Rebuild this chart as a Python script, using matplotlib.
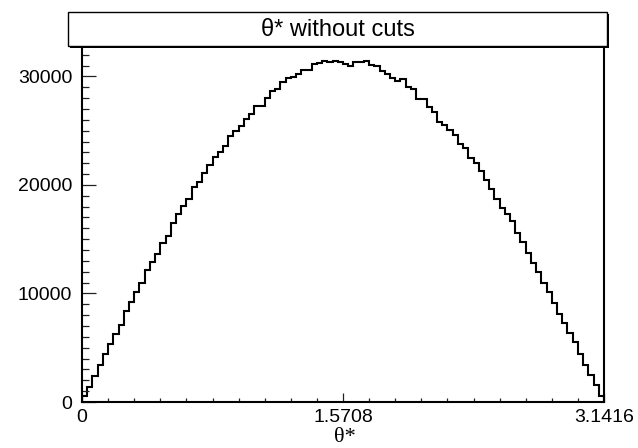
"""theta* distribution without cuts, ROOT-style histogram."""
import numpy as np
import matplotlib
matplotlib.use('Agg')
import matplotlib.pyplot as plt
from matplotlib.patches import Rectangle
from matplotlib.ticker import FixedLocator, MultipleLocator

# ── data ────────────────────────────────────────────────────────────────────
x_min, x_max = 0.0, np.pi
n_bins = 100
counts = [
    515, 1408, 2357, 3370, 4444, 5300, 6284, 7110, 8370, 9228,
    10148, 11003, 12140, 12876, 13640, 14684, 15300, 16468, 17324, 18090,
    18731, 19835, 20240, 21123, 21804, 22568, 23028, 23552, 24500, 24987,
    25447, 26064, 26524, 27287, 27287, 28023, 28640, 28796, 29495, 29808,
    29955, 30204, 30544, 30544, 31096, 31188, 31427, 31280, 31427, 31280,
    31096, 30940, 31280, 31280, 31427, 31032, 30940, 30480, 30176, 29863,
    29560, 29716, 28980, 28796, 27876, 27876, 27195, 26700, 25815, 25512,
    25052, 24592, 23736, 23368, 22503, 21988, 21280, 20452, 19624, 18676,
    17848, 17324, 16707, 15548, 14775, 13708, 12843, 11960, 11003, 10120,
    9163, 8124, 7268, 6403, 5483, 4444, 3432, 2512, 1527, 515,
]
x_ticks = [0.0, np.pi / 2, np.pi]
x_tick_labels = ['0', '1.5708', '3.1416']
y_ticks = [0, 10000, 20000, 30000]
title = 'θ* without cuts'
x_label = 'θ*'

W, H = 638, 448
plt.rcParams['font.family'] = ['Liberation Sans', 'DejaVu Sans']

fig = plt.figure(figsize=(W / 100, H / 100), dpi=100, facecolor='white')
ax = fig.add_axes([82 / W, 1 - 402 / H, 522 / W, 356 / H])

edges = np.linspace(x_min, x_max, n_bins + 1)
ax.stairs(counts, edges, baseline=0, color='black', lw=1.5)

ax.set_xlim(x_min, x_max)
ax.set_ylim(0, 32800)

ax.xaxis.set_major_locator(FixedLocator(x_ticks))
ax.set_xticklabels(x_tick_labels)
ax.xaxis.set_minor_locator(MultipleLocator(np.pi / 20))
ax.yaxis.set_major_locator(FixedLocator(y_ticks))
ax.yaxis.set_minor_locator(MultipleLocator(1000))

ax.tick_params(axis='both', which='both', direction='in', colors='#222222',
               labelcolor='black', labelsize=14, width=0.9)
ax.tick_params(axis='x', which='major', length=6.2, pad=5)
ax.tick_params(axis='x', which='minor', length=3.1)
ax.tick_params(axis='y', which='major', length=9.9, pad=7)
ax.tick_params(axis='y', which='minor', length=4.8)

for sp in ax.spines.values():
    sp.set_linewidth(1.5)
    sp.set_color('black')

# title box with ROOT-like shadow
bx0, by0, bx1, by1 = 68, 12, 607, 46
fig.patches.append(Rectangle(((bx0 + 2) / W, 1 - (by1 + 2) / H),
                             (bx1 - bx0) / W, (by1 - by0) / H,
                             transform=fig.transFigure, fc='black', ec='none',
                             zorder=5))
fig.patches.append(Rectangle((bx0 / W, 1 - by1 / H),
                             (bx1 - bx0) / W, (by1 - by0) / H,
                             transform=fig.transFigure, fc='white', ec='black',
                             lw=1.0, zorder=6))
fig.text((bx0 + bx1) / 2 / W, 1 - 30 / H, title, ha='center', va='center',
         fontsize=17, zorder=7)

fig.text(345 / W, 1 - 437 / H, x_label, ha='center', va='center',
         fontsize=16, family=['Liberation Serif', 'DejaVu Serif'])

fig.savefig('out.png', dpi=100, facecolor='white')
